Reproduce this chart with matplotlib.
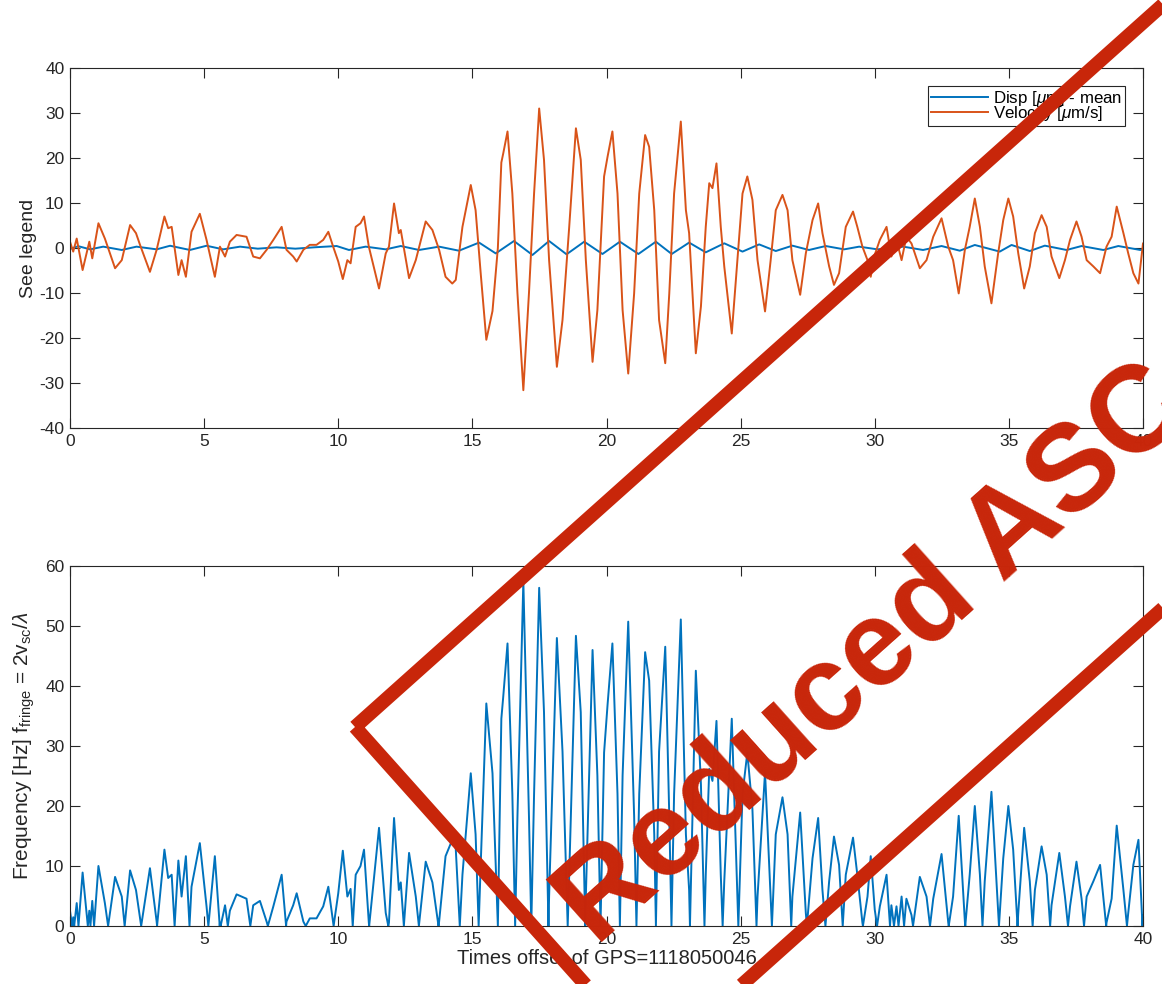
import matplotlib
matplotlib.use("Agg")
import matplotlib.pyplot as plt
from matplotlib.patches import Polygon
import numpy as np

plt.rcParams['font.family'] = ['Liberation Sans', 'DejaVu Sans']
plt.rcParams['mathtext.fontset'] = 'custom'
plt.rcParams['mathtext.rm'] = 'Liberation Sans'
plt.rcParams['mathtext.it'] = 'Liberation Sans:italic'
plt.rcParams['mathtext.bf'] = 'Liberation Sans:bold'
plt.rcParams['axes.unicode_minus'] = False

# ---------------- data ----------------
# Velocity [um/s] vs time offset [s]
vel_t = [0.0, 0.12, 0.25, 0.47, 0.72, 0.83, 1.06, 1.30, 1.49, 1.68, 1.93, 2.24, 2.46, 2.61,
         2.98, 3.23, 3.52, 3.66, 3.79, 4.04, 4.16, 4.32, 4.53, 4.84, 5.09, 5.40, 5.59, 5.78,
         5.96, 6.21, 6.58, 6.83, 7.08, 7.33, 7.58, 7.89, 8.07, 8.32, 8.45, 8.70, 8.94, 9.19,
         9.44, 9.63, 9.81, 10.0, 10.17, 10.34, 10.46, 10.65, 10.83, 10.96, 11.14, 11.52, 11.77,
         11.89, 12.08, 12.26, 12.33, 12.64, 12.89, 13.26, 13.51, 13.76, 14.0, 14.25, 14.38,
         14.63, 14.94, 15.12, 15.31, 15.52, 15.75, 15.95, 16.08, 16.15, 16.31, 16.49, 16.68,
         16.9, 17.11, 17.3, 17.49, 17.67, 17.86, 18.15, 18.36, 18.61, 18.86, 19.04, 19.23,
         19.48, 19.66, 19.91, 20.04, 20.22, 20.41, 20.6, 20.81, 21.03, 21.22, 21.44, 21.59,
         21.78, 21.96, 22.19, 22.34, 22.52, 22.77, 22.96, 23.08, 23.33, 23.52, 23.70, 23.83,
         23.95, 24.10, 24.26, 24.39, 24.67, 24.88, 25.07, 25.25, 25.44, 25.63, 25.91, 26.12,
         26.31, 26.56, 26.75, 26.93, 27.22, 27.43, 27.68, 27.89, 28.05, 28.30, 28.48, 28.67,
         28.92, 29.19, 29.35, 29.54, 29.73, 29.85, 30.0, 30.19, 30.44, 30.62, 30.81, 31.0,
         31.18, 31.37, 31.68, 31.93, 32.18, 32.49, 32.74, 32.92, 33.13, 33.36, 33.54, 33.73,
         33.92, 34.10, 34.35, 34.60, 34.79, 34.98, 35.16, 35.35, 35.57, 35.78, 35.97, 36.22,
         36.41, 36.59, 36.88, 37.09, 37.28, 37.52, 37.71, 37.90, 38.15, 38.40, 38.64, 38.83,
         39.02, 39.27, 39.45, 39.64, 39.83, 40.0]
vel_v = [1.4, -0.8, 2.1, -4.9, 1.4, -2.3, 5.5, 2.1, -1.2, -4.5, -2.7, 5.1, 3.3, 0.7,
         -5.3, -0.4, 7.0, 4.4, 4.7, -6.0, -2.7, -6.4, 3.6, 7.6, 1.8, -6.4, 0.3, -1.9,
         1.4, 2.9, 2.5, -1.9, -2.3, -0.4, 1.8, 4.7, -0.4, -1.9, -3.0, -0.4, 0.7, 0.7,
         1.8, 3.6, 0.3, -3.0, -6.9, -2.7, -3.4, 4.7, 5.5, 7.0, 0.3, -9.0, -1.2,
         0.3, 9.9, 3.3, 4.0, -6.7, -2.7, 5.9, 4.0, -0.4, -6.4, -7.9, -7.1,
         4.7, 14.0, 8.4, -5.6, -20.4, -14.0, 0.0, 19.0, 21.0, 25.9, 12.1, -10.0,
         -31.6, -10.0, 12.1, 31.0, 19.6, -2.7, -26.4, -16.0, 4.7, 26.6, 19.6, -2.7,
         -25.3, -13.8, 15.9, 20.3, 25.9, 12.1, -13.8, -27.9, -10.1, 12.1, 25.1, 22.5,
         8.4, -16.0, -25.6, -10.1, 12.1, 28.1, 8.4, 3.3, -23.4, -13.0, 4.7, 14.4,
         13.3, 18.8, 4.7, -4.1, -19.0, -2.7, 12.1, 15.9, 10.7, -2.7, -14.1, -2.7,
         8.4, 11.8, 8.4, -2.7, -10.4, -1.2, 6.2, 9.9, 3.3, -4.1, -8.2, -5.6,
         4.7, 8.1, 4.7, 0.3, -2.7, -6.4, -1.5, 1.8, 4.7, -1.9, 1.8, -2.7,
         2.5, 1.0, -4.5, -2.7, 2.5, 6.6, 0.3, -2.7, -10.1, -0.4, 4.7, 11.0,
         4.7, -4.1, -12.3, -1.2, 6.2, 11.0, 7.0, -1.2, -9.0, -4.1, 3.3, 7.3,
         4.7, -1.9, -6.7, -2.7, 1.8, 5.9, 2.5, -2.7, -4.1, -5.6, 0.3, 2.5,
         9.2, 3.3, -1.2, -5.6, -7.9, 1.0]

# Displacement - mean [um] (extrema of the blue trace)
disp_t = [0.0, 0.31, 0.75, 1.24, 1.93, 2.48, 3.23, 3.73, 4.47, 5.09, 5.71, 6.34, 7.0, 7.7,
          8.4, 9.1, 9.94, 10.4, 11.02, 11.77, 12.33, 13.01, 13.76, 14.5, 15.25, 15.87, 16.55,
          17.24, 17.86, 18.51, 19.17, 19.85, 20.5, 21.19, 21.84, 22.43, 23.08, 23.7, 24.39,
          25.07, 25.69, 26.31, 26.93, 27.55, 28.17, 28.86, 29.42, 30.1, 31.06, 31.8, 32.49,
          33.17, 33.73, 34.66, 35.1, 35.78, 36.34, 37.15, 37.71, 38.52, 39.08, 39.9, 40.0]
disp_v = [-0.2, 0.4, -0.3, 0.3, -0.44, 0.3, -0.3, 0.5, -0.44, 0.5, -0.3, 0.3, -0.15, 0.15,
          -0.15, 0.15, 0.44, -0.44, 0.3, -0.3, 0.44, -0.44, 0.3, -0.6, 1.2, -1.2, 1.55,
          -1.55, 1.55, -1.4, 1.4, -1.33, 1.4, -1.33, 1.4, -1.33, 1.2, -0.96, 1.04,
          -0.8, 0.8, -0.67, 0.52, -0.44, 0.44, -0.3, 0.3, -0.3, 0.3, -0.44, 0.44,
          -0.6, 0.67, -0.8, 0.67, -0.67, 0.52, -0.44, 0.44, -0.44, 0.44, -0.44, -0.3]

wavelength_um = 1.1   # fringe scale (f = 2|v|/lambda)

x_ticks = [0, 5, 10, 15, 20, 25, 30, 35, 40]
y1_ticks = [-40, -30, -20, -10, 0, 10, 20, 30, 40]
y2_ticks = [0, 10, 20, 30, 40, 50, 60]

# ---------------- figure ----------------
W, H = 1162, 984
fig = plt.figure(figsize=(W / 100, H / 100), dpi=100)
ax1 = fig.add_axes([70 / W, 1 - 428 / H, 1073 / W, 360 / H])
ax2 = fig.add_axes([70 / W, 1 - 926 / H, 1073 / W, 360 / H])

blue = '#0072BD'
orange = '#D95319'

ax1.plot(disp_t, disp_v, color=blue, lw=1.4, label='Disp [$\\mu$m] - mean')
ax1.plot(vel_t, vel_v, color=orange, lw=1.4, label='Velocity [$\\mu$m/s]')

# fringe frequency from velocity polyline (exact zero crossings of the polyline kept)
ft, fv = [vel_t[0]], [vel_v[0]]
for i in range(1, len(vel_t)):
    a, b = vel_v[i - 1], vel_v[i]
    if a * b < 0:
        tc = vel_t[i - 1] + (vel_t[i] - vel_t[i - 1]) * a / (a - b)
        ft.append(tc)
        fv.append(0.0)
    ft.append(vel_t[i])
    fv.append(b)
freq = 2 * np.abs(np.array(fv)) / wavelength_um
ax2.plot(ft, freq, color=blue, lw=1.4)

axis_col = '#262626'
for ax, yt in ((ax1, y1_ticks), (ax2, y2_ticks)):
    ax.set_xlim(0, 40)
    ax.set_xticks(x_ticks)
    ax.set_yticks(yt)
    ax.set_ylim(yt[0], yt[-1])
    ax.tick_params(direction='in', length=7, width=0.8, top=True, right=True,
                   labelsize=12.5, colors=axis_col, pad=4)
    for s in ax.spines.values():
        s.set_color(axis_col)
        s.set_linewidth(0.8)

ax1.set_ylabel('See legend', fontsize=14, color=axis_col, labelpad=2)
ax2.set_ylabel('Frequency [Hz] f$_{\\rm fringe}$ = 2v$_{\\rm sc}$/$\\lambda$', fontsize=15,
               color=axis_col, labelpad=6)
ax2.set_xlabel('Times offset of GPS=1118050046', fontsize=14.5, color=axis_col, labelpad=2)

leg = ax1.legend(loc='upper right', bbox_to_anchor=(1125 / W, 1 - 86 / H),
                 bbox_transform=fig.transFigure, fontsize=12.2, handlelength=3.4,
                 labelspacing=-0.2, borderpad=0.15, handletextpad=0.3, borderaxespad=0,
                 fancybox=False, framealpha=1)
leg.get_frame().set_edgecolor('#262626')
leg.get_frame().set_linewidth(0.8)

# ---------------- stamp overlay ----------------
red = '#C8260A'
ang = np.deg2rad(41.8)
u = np.array([np.cos(ang), -np.sin(ang)])
n = np.array([np.sin(ang), np.cos(ang)])
L = np.array([355.0, 727.0])
T = L + 1150 * u
B = L + 450 * n
R = T + 450 * n
pts_px = [L, T, R, B]
pts = [(p[0] / W, 1 - p[1] / H) for p in pts_px]
fig.add_artist(Polygon(pts, closed=True, fill=False, edgecolor=red, lw=10,
                       joinstyle='miter', transform=fig.transFigure, zorder=20))
fig.text(596 / W, 1 - 947 / H, 'Reduced ASC', rotation=41.8, rotation_mode='anchor',
         ha='left', va='baseline', fontsize=88, fontweight='bold', color=red,
         zorder=21)

fig.savefig('out.png', dpi=100)
